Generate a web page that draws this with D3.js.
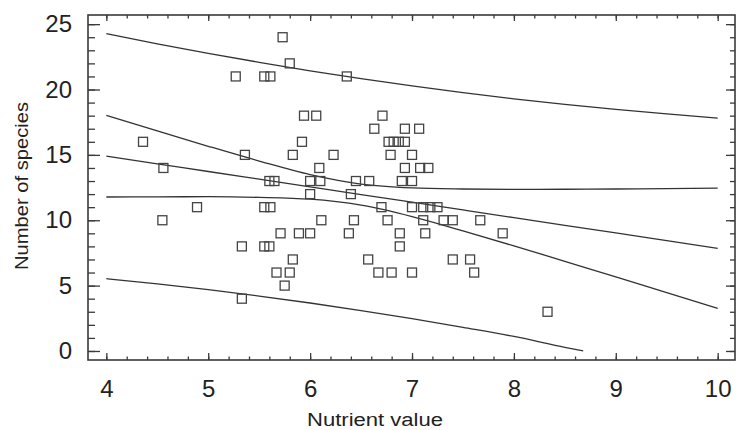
<!DOCTYPE html>
<html>
<head>
<meta charset="utf-8">
<script src="https://cdn.jsdelivr.net/npm/d3@7"></script>
<style>
  body { margin: 0; background: #fff; }
  svg { display: block; }
</style>
</head>
<body>
<div class="chart-container"></div>
<script>
const SVG_WIDTH = 736;
const SVG_HEIGHT = 430;

// scatter: nutrient value vs number of species
const nutrient = [
    5.73,
    5.80,
    5.27, 5.55, 5.61, 6.36,
    5.94, 6.06, 6.71,
    6.63, 6.93, 7.07,
    4.36, 5.92, 6.77, 6.82, 6.87, 6.93,
    5.36, 5.83, 6.23, 6.79, 7.00,
    4.56, 6.09, 6.93, 7.08, 7.16,
    5.60, 5.65, 6.00, 6.10, 6.45, 6.58, 6.90, 7.00,
    6.00, 6.40,
    4.89, 5.55, 5.61, 6.70, 7.00, 7.11, 7.18, 7.25,
    4.55, 6.11, 6.43, 6.76, 7.11, 7.31, 7.40, 7.67,
    5.71, 5.89, 6.00, 6.38, 6.88, 7.13, 7.89,
    5.33, 5.55, 5.60, 6.88,
    5.83, 6.57, 7.40, 7.57,
    5.67, 5.80, 6.67, 6.80, 7.00, 7.61,
    5.75,
    5.33,
    8.33
];
const species = [
    24,
    22,
    21, 21, 21, 21,
    18, 18, 18,
    17, 17, 17,
    16, 16, 16, 16, 16, 16,
    15, 15, 15, 15, 15,
    14, 14, 14, 14, 14,
    13, 13, 13, 13, 13, 13, 13, 13,
    12, 12,
    11, 11, 11, 11, 11, 11, 11, 11,
    10, 10, 10, 10, 10, 10, 10, 10,
    9, 9, 9, 9, 9, 9, 9,
    8, 8, 8, 8,
    7, 7, 7, 7,
    6, 6, 6, 6, 6, 6,
    5,
    4,
    3
];

// fitted line and bands
const bandX   = [4, 4.5, 5, 5.5, 6, 6.5, 7, 7.5, 8, 8.5, 9, 9.5, 10];
const fitY    = [14.90, 14.31, 13.73, 13.14, 12.55, 11.96, 11.38, 10.79, 10.20, 9.61, 9.03, 8.44, 7.85];
const ciUpper = [18.02, 16.83, 15.66, 14.53, 13.49, 12.77, 12.48, 12.39, 12.36, 12.37, 12.39, 12.42, 12.45];
const ciLower = [11.78, 11.79, 11.80, 11.75, 11.61, 11.15, 10.28, 9.19, 8.04, 6.85, 5.67, 4.46, 3.25];
const piUpper = [24.27, 23.49, 22.77, 22.08, 21.43, 20.83, 20.28, 19.77, 19.29, 18.86, 18.48, 18.13, 17.81];
const piLowerX = [4, 4.5, 5, 5.5, 6, 6.5, 7, 7.5, 8, 8.5, 8.68];
const piLower  = [5.53, 5.13, 4.69, 4.20, 3.67, 3.09, 2.48, 1.81, 1.11, 0.28, 0];

const xTicks = [4, 5, 6, 7, 8, 9, 10];
const yTicks = [0, 5, 10, 15, 20, 25];

const frame = { left: 88, right: 735, top: 15, bottom: 360 };
const inkColour = "#3a3a3a";

const svg = d3.select(".chart-container")
    .append("svg")
    .attr("width", SVG_WIDTH)
    .attr("height", SVG_HEIGHT);

const x = d3.scaleLinear()
    .domain([3.82, 10.17])
    .range([frame.left, frame.right]);

const y = d3.scaleLinear()
    .domain([-0.69, 25.7])
    .range([frame.bottom, frame.top]);

const xMinor = d3.range(4, 10.001, 0.2);
const yMinor = d3.range(0, 25.001, 1);

function styleAxis(g){
    g.select(".domain").remove();
    g.selectAll(".tick line")
        .attr("stroke", inkColour)
        .attr("stroke-width", 1.3);
    g.selectAll("text")
        .attr("fill", "#222")
        .style("font-family", "'Liberation Sans', Arial, sans-serif");
}

// left axis, ticks pointing in
svg.append("g")
    .attr("transform", `translate(${frame.left},0)`)
    .call(d3.axisLeft(y).tickValues(yMinor).tickSize(-7).tickFormat(""))
    .call(styleAxis);

svg.append("g")
    .attr("transform", `translate(${frame.left},0)`)
    .call(d3.axisLeft(y).tickValues(yTicks).tickSize(-12).tickPadding(16).tickFormat(d3.format("d")))
    .call(styleAxis)
    .selectAll("text")
    .style("font-size", "24px");

// right axis
svg.append("g")
    .attr("transform", `translate(${frame.right},0)`)
    .call(d3.axisRight(y).tickValues(yMinor).tickSize(-5).tickFormat(""))
    .call(styleAxis);

svg.append("g")
    .attr("transform", `translate(${frame.right},0)`)
    .call(d3.axisRight(y).tickValues(yTicks).tickSize(-9).tickFormat(""))
    .call(styleAxis);

// bottom axis
svg.append("g")
    .attr("transform", `translate(0,${frame.bottom})`)
    .call(d3.axisBottom(x).tickValues(xMinor).tickSize(-3.5).tickFormat(""))
    .call(styleAxis);

svg.append("g")
    .attr("transform", `translate(0,${frame.bottom})`)
    .call(d3.axisBottom(x).tickValues(xTicks).tickSize(-7).tickPadding(20).tickFormat(d3.format("d")))
    .call(styleAxis)
    .selectAll("text")
    .style("font-size", "24px");

// top axis
svg.append("g")
    .attr("transform", `translate(0,${frame.top})`)
    .call(d3.axisTop(x).tickValues(xMinor).tickSize(-3.5).tickFormat(""))
    .call(styleAxis);

svg.append("g")
    .attr("transform", `translate(0,${frame.top})`)
    .call(d3.axisTop(x).tickValues(xTicks).tickSize(-6).tickFormat(""))
    .call(styleAxis);

// frame
svg.append("rect")
    .attr("x", frame.left)
    .attr("y", frame.top)
    .attr("width", frame.right - frame.left)
    .attr("height", frame.bottom - frame.top)
    .attr("fill", "none")
    .attr("stroke", inkColour)
    .attr("stroke-width", 1.6);

// curves
const line = d3.line()
    .x(d => x(d[0]))
    .y(d => y(d[1]))
    .curve(d3.curveMonotoneX);

const curves = [
    d3.zip(bandX, piUpper),
    d3.zip(bandX, ciUpper),
    d3.zip(bandX, fitY),
    d3.zip(bandX, ciLower),
    d3.zip(piLowerX, piLower)
];

svg.append("g")
    .selectAll("path")
    .data(curves)
    .join("path")
    .attr("d", line)
    .attr("fill", "none")
    .attr("stroke", "#333")
    .attr("stroke-width", 1.3);

// points
const boxSize = 9;
svg.append("g")
    .selectAll("rect")
    .data(d3.zip(nutrient, species))
    .join("rect")
    .attr("x", d => x(d[0]) - boxSize / 2)
    .attr("y", d => y(d[1]) - boxSize / 2)
    .attr("width", boxSize)
    .attr("height", boxSize)
    .attr("fill", "none")
    .attr("stroke", "#444")
    .attr("stroke-width", 1.3);

// axis titles
svg.append("text")
    .attr("x", 375)
    .attr("y", 426)
    .attr("text-anchor", "middle")
    .attr("fill", "#222")
    .attr("textLength", 136)
    .attr("lengthAdjust", "spacingAndGlyphs")
    .style("font-family", "'Liberation Sans', Arial, sans-serif")
    .style("font-size", "18px")
    .text("Nutrient value");

svg.append("text")
    .attr("transform", "translate(28,186) rotate(-90)")
    .attr("text-anchor", "middle")
    .attr("fill", "#222")
    .attr("textLength", 168)
    .attr("lengthAdjust", "spacingAndGlyphs")
    .style("font-family", "'Liberation Sans', Arial, sans-serif")
    .style("font-size", "18px")
    .text("Number of species");
</script>
</body>
</html>
